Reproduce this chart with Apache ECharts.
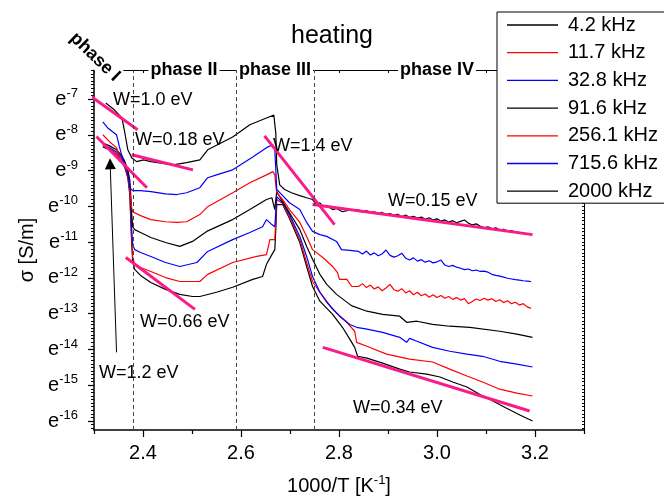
<!DOCTYPE html>
<html>
<head>
<meta charset="utf-8">
<script src="https://cdn.jsdelivr.net/npm/echarts@6/dist/echarts.min.js"></script>
<style>html,body{margin:0;padding:0;background:#fff}#main{width:664px;height:501px}</style>
</head>
<body>
<div id="main"></div>
<script>
var FONT = '"Liberation Sans", Arial, sans-serif';

// legend names and colours, low to high frequency
var names = ['4.2 kHz', '11.7 kHz', '32.8 kHz', '91.6 kHz', '256.1 kHz', '715.6 kHz', '2000 kHz'];
var colors = ['#000000', '#ff0000', '#0000ff', '#000000', '#ff0000', '#0000ff', '#000000'];

// [1000/T, ln sigma]
var f4_2 = [[2.318,-8.34],[2.332,-8.42],[2.346,-8.56],[2.357,-8.75],[2.363,-8.92],[2.369,-9.20],[2.373,-9.67],[2.375,-10.37],[2.377,-11.07],[2.379,-11.54],[2.383,-11.76],[2.395,-11.93],[2.416,-12.13],[2.446,-12.32],[2.475,-12.46],[2.501,-12.52],[2.516,-12.52],[2.550,-12.40],[2.583,-12.26],[2.624,-12.04],[2.644,-11.96],[2.652,-11.62],[2.663,-11.35],[2.669,-11.21],[2.671,-10.65],[2.673,-9.95],[2.685,-9.95],[2.699,-10.34],[2.720,-11.01],[2.734,-11.68],[2.746,-12.24],[2.761,-12.65],[2.787,-13.02],[2.807,-13.38],[2.822,-13.71],[2.832,-13.94],[2.838,-14.19],[2.857,-14.24],[2.889,-14.38],[2.924,-14.55],[2.944,-14.63],[2.979,-14.69],[3.006,-14.77],[3.032,-14.91],[3.061,-15.05],[3.087,-15.25],[3.114,-15.44],[3.142,-15.64],[3.169,-15.83],[3.195,-16.00]];
var f11_7 = [[2.318,-8.31],[2.332,-8.39],[2.346,-8.53],[2.357,-8.70],[2.363,-8.87],[2.369,-9.12],[2.373,-9.53],[2.375,-10.23],[2.377,-10.93],[2.379,-11.43],[2.383,-11.60],[2.395,-11.71],[2.416,-11.82],[2.446,-11.99],[2.475,-12.10],[2.516,-12.10],[2.532,-11.90],[2.583,-11.57],[2.632,-11.40],[2.652,-11.35],[2.659,-10.93],[2.669,-10.93],[2.671,-10.37],[2.673,-9.81],[2.685,-9.92],[2.699,-10.29],[2.720,-10.93],[2.734,-11.57],[2.746,-12.10],[2.761,-12.40],[2.787,-12.88],[2.816,-13.24],[2.832,-13.49],[2.836,-13.80],[2.857,-13.91],[2.897,-14.13],[2.944,-14.27],[2.991,-14.35],[3.026,-14.55],[3.061,-14.74],[3.093,-14.91],[3.128,-15.11],[3.163,-15.22],[3.195,-15.30]];
var f32_8 = [[2.318,-8.28],[2.332,-8.36],[2.346,-8.48],[2.357,-8.64],[2.363,-8.81],[2.369,-9.03],[2.373,-9.40],[2.375,-9.95],[2.377,-10.65],[2.379,-11.07],[2.383,-11.21],[2.395,-11.29],[2.416,-11.40],[2.446,-11.57],[2.475,-11.68],[2.510,-11.57],[2.532,-11.26],[2.583,-10.93],[2.618,-10.73],[2.644,-10.57],[2.652,-10.37],[2.663,-10.51],[2.669,-10.57],[2.671,-10.15],[2.673,-9.73],[2.685,-9.90],[2.699,-10.23],[2.720,-10.84],[2.734,-11.40],[2.746,-11.96],[2.761,-12.40],[2.775,-12.68],[2.801,-13.07],[2.822,-13.30],[2.836,-13.38],[2.857,-13.43],[2.889,-13.52],[2.924,-13.66],[2.938,-13.80],[2.944,-13.69],[2.959,-13.77],[2.991,-13.94],[3.026,-14.05],[3.061,-14.13],[3.093,-14.19],[3.128,-14.33],[3.163,-14.41],[3.195,-14.49]];
var f91_6 = [[2.318,-8.23],[2.332,-8.31],[2.346,-8.42],[2.357,-8.59],[2.363,-8.75],[2.369,-8.98],[2.373,-9.26],[2.375,-9.67],[2.377,-10.23],[2.379,-10.57],[2.383,-10.65],[2.395,-10.73],[2.416,-10.87],[2.446,-11.01],[2.475,-11.12],[2.501,-10.98],[2.530,-10.70],[2.583,-10.37],[2.618,-10.09],[2.652,-9.81],[2.663,-9.76],[2.669,-10.09],[2.671,-9.81],[2.673,-9.59],[2.685,-9.87],[2.699,-10.18],[2.720,-10.65],[2.734,-11.12],[2.746,-11.48],[2.761,-11.90],[2.775,-12.18],[2.795,-12.46],[2.822,-12.74],[2.828,-12.79],[2.857,-12.93],[2.889,-13.02],[2.924,-13.07],[2.938,-13.24],[2.959,-13.21],[2.991,-13.30],[3.026,-13.35],[3.067,-13.38],[3.128,-13.49],[3.163,-13.57],[3.195,-13.66]];
var f256_1 = [[2.318,-8.00],[2.332,-8.20],[2.346,-8.36],[2.352,-8.62],[2.363,-8.89],[2.369,-9.17],[2.373,-9.53],[2.375,-9.81],[2.377,-10.04],[2.379,-10.15],[2.395,-10.26],[2.416,-10.37],[2.446,-10.43],[2.469,-10.45],[2.489,-10.43],[2.516,-10.23],[2.532,-10.01],[2.583,-9.62],[2.618,-9.34],[2.652,-9.12],[2.665,-9.03],[2.669,-9.12],[2.671,-9.40],[2.673,-9.62],[2.685,-9.81],[2.699,-10.09],[2.720,-10.45],[2.734,-10.84],[2.746,-11.21],[2.767,-11.43],[2.787,-11.68],[2.797,-11.85],[2.801,-12.04],[2.816,-12.04],[2.826,-12.24]];
var f715_6 = [[2.318,-7.64],[2.328,-7.81],[2.346,-8.00],[2.352,-8.34],[2.359,-8.70],[2.367,-8.98],[2.371,-9.26],[2.373,-9.48],[2.379,-9.56],[2.395,-9.56],[2.416,-9.59],[2.446,-9.65],[2.469,-9.67],[2.489,-9.62],[2.516,-9.48],[2.532,-9.20],[2.550,-9.12],[2.583,-8.98],[2.624,-8.62],[2.652,-8.36],[2.665,-8.28],[2.669,-8.42],[2.671,-8.98],[2.673,-9.53],[2.685,-9.70],[2.699,-9.90],[2.720,-10.09],[2.734,-10.45],[2.746,-10.70],[2.761,-10.79],[2.775,-10.84],[2.795,-10.98],[2.805,-11.21],[2.822,-11.23]];
var f2000 = [[2.324,-7.11],[2.342,-7.31],[2.357,-7.53],[2.363,-7.95],[2.369,-8.42],[2.377,-8.64],[2.387,-8.75],[2.401,-8.70],[2.416,-8.75],[2.430,-8.78],[2.461,-8.84],[2.489,-8.78],[2.516,-8.70],[2.532,-8.42],[2.583,-8.06],[2.618,-7.72],[2.652,-7.53],[2.667,-7.45],[2.671,-7.95],[2.673,-8.84],[2.679,-9.40],[2.689,-9.53],[2.703,-9.62],[2.720,-9.70],[2.734,-9.76],[2.746,-9.81],[2.754,-9.95],[2.761,-9.90],[2.767,-10.01],[2.775,-9.98],[2.787,-10.09],[2.795,-10.06],[2.807,-10.15],[2.816,-10.12],[2.828,-10.09]];

// noisy phase IV part of the three highest frequencies
var xIV = [2.840,2.848,2.856,2.864,2.872,2.880,2.888,2.896,2.904,2.912,2.920,2.928,2.936,2.944,2.952,2.960,2.968,2.976,2.984,2.992,3.000,3.008,3.016,3.024,3.032,3.040,3.048,3.056,3.064,3.072,3.080,3.088,3.096,3.104,3.112,3.120,3.128,3.136,3.144,3.152,3.160,3.168,3.176,3.184,3.192];
var y256IV = [-12.24,-12.16,-12.27,-12.20,-12.31,-12.25,-12.36,-12.28,-12.18,-12.33,-12.37,-12.30,-12.42,-12.36,-12.47,-12.40,-12.50,-12.45,-12.54,-12.47,-12.55,-12.49,-12.57,-12.52,-12.60,-12.55,-12.62,-12.58,-12.72,-12.66,-12.59,-12.63,-12.57,-12.62,-12.58,-12.66,-12.61,-12.69,-12.64,-12.72,-12.68,-12.76,-12.72,-12.81,-12.85];
var y715IV = [-11.26,-11.33,-11.25,-11.36,-11.30,-11.38,-11.33,-11.22,-11.37,-11.42,-11.38,-11.31,-11.45,-11.50,-11.44,-11.53,-11.49,-11.56,-11.52,-11.58,-11.55,-11.50,-11.64,-11.68,-11.65,-11.70,-11.73,-11.77,-11.75,-11.80,-11.78,-11.82,-11.81,-11.84,-11.90,-11.93,-11.95,-11.98,-12.01,-12.03,-12.05,-12.06,-12.08,-12.09,-12.10];
var y2000IV = [-10.10,-10.16,-10.12,-10.18,-10.15,-10.21,-10.17,-10.24,-10.20,-10.25,-10.22,-10.29,-10.24,-10.31,-10.28,-10.33,-10.30,-10.36,-10.32,-10.38,-10.35,-10.41,-10.38,-10.44,-10.40,-10.46,-10.42,-10.38,-10.47,-10.52,-10.49,-10.55,-10.60,-10.57,-10.63,-10.60,-10.66,-10.64,-10.69,-10.68,-10.72,-10.73,-10.76,-10.77,-10.79];

// activation-energy fit lines (end points)
var fitLines = [
    [[2.279,-6.78],[2.389,-7.86]],   // 1.0 eV
    [[2.377,-8.56],[2.502,-8.98]],   // 0.18 eV
    [[2.305,-8.05],[2.408,-9.48]],   // 1.2 eV
    [[2.365,-11.43],[2.506,-12.88]], // 0.66 eV
    [[2.648,-8.03],[2.791,-10.51]],  // 1.4 eV
    [[2.746,-9.95],[3.195,-10.79]],  // 0.15 eV
    [[2.767,-13.94],[3.189,-15.72]]  // 0.34 eV
];
// phase boundaries
var phaseBounds = [2.376, 2.591, 2.748];
// arrow for W=1.2 eV
var arrowFrom = [2.346, -14.08];
var arrowTo = [2.333, -8.81];

var xMajor = [2.4, 2.6, 2.8, 3.0, 3.2];
var xMinor = [2.3, 2.5, 2.7, 2.9, 3.1, 3.3];
var yMajor = [-16, -15, -14, -13, -12, -11, -10, -9, -8, -7];
var Y_MIN = -16.25, Y_MAX = -6.19;

var xFine = [];
for (var i = 0; i <= 10; i++) xFine.push(+(2.3 + i * 0.1).toFixed(1));
var yFine = [];
for (var k = -162; k <= -62; k++) yFine.push(k / 10);

function zip(xs, ys) {
    return xs.map(function (x, i) { return [x, ys[i]]; });
}

var curves = [
    f4_2, f11_7, f32_8, f91_6,
    f256_1.concat(zip(xIV, y256IV)),
    f715_6.concat(zip(xIV, y715IV)),
    f2000.concat(zip(xIV, y2000IV))
];

var series = curves.map(function (d, i) {
    return {
        name: names[i],
        type: 'line',
        data: d,
        symbol: 'none',
        showSymbol: false,
        silent: true,
        lineStyle: {color: colors[i], width: 1.2},
        itemStyle: {color: colors[i]},
        z: 2
    };
});

// dashed phase boundaries
series[0].markLine = {
    silent: true,
    symbol: 'none',
    label: {show: false},
    lineStyle: {color: '#444', width: 1, type: [4, 3]},
    data: phaseBounds.map(function (v) { return {xAxis: v}; })
};
// arrow
series[1].markLine = {
    silent: true,
    symbol: ['none', 'triangle'],
    symbolSize: 11,
    label: {show: false},
    lineStyle: {color: '#000', width: 1, type: 'solid'},
    data: [[{coord: arrowFrom}, {coord: arrowTo}]]
};

fitLines.forEach(function (d) {
    series.push({
        type: 'line',
        data: d,
        symbol: 'none',
        silent: true,
        clip: false,
        lineStyle: {color: '#fb1a8a', width: 3},
        z: 3
    });
});

function txt(s, x, y, extra) {
    var o = {
        type: 'text', x: x, y: y, z: 100, silent: true,
        style: {text: s, fill: '#000', font: '18px ' + FONT, textVerticalAlign: 'middle'}
    };
    if (extra) {
        for (var p in extra.style || {}) o.style[p] = extra.style[p];
        if (extra.rotation) o.rotation = extra.rotation;
    }
    return o;
}
function phase(s, x, y, rot) {
    return txt(s, x, y, {
        rotation: rot,
        style: {font: 'bold 18px ' + FONT, textAlign: 'center', backgroundColor: '#fff', padding: [1, 2]}
    });
}

var myChart = echarts.init(document.getElementById('main'));
myChart.setOption({
    animation: false,
    backgroundColor: '#fff',
    title: {
        text: 'heating', left: 'center', top: 24, padding: 0,
        textStyle: {fontSize: 25, fontWeight: 'normal', fontFamily: FONT, color: '#000'}
    },
    legend: {
        data: names,
        orient: 'vertical',
        left: 497, top: 12,
        icon: 'rect',
        itemWidth: 51, itemHeight: 1.3, itemGap: 7.7,
        padding: [3, 60, 2, 10],
        backgroundColor: '#fff',
        borderColor: '#000', borderWidth: 1, borderRadius: 0,
        textStyle: {fontSize: 20, fontFamily: FONT, color: '#000', lineHeight: 20, padding: [0, 0, 0, 5]},
        selectedMode: false
    },
    grid: {left: 94, right: 80, top: 70, bottom: 70},
    xAxis: [{
        type: 'value', min: 2.3, max: 3.3, position: 'bottom',
        axisLine: {onZero: false, lineStyle: {color: '#000', width: 1.5}},
        axisTick: {customValues: xMajor, length: 7, lineStyle: {color: '#000', width: 1.2}},
        axisLabel: {customValues: xMajor, formatter: function (v) { return v.toFixed(1); },
            fontSize: 20, fontFamily: FONT, color: '#000', margin: 13},
        splitLine: {show: false},
        name: '1000/T [K{s|-1}]', nameLocation: 'middle', nameGap: 44,
        nameTextStyle: {fontSize: 20, fontFamily: FONT, color: '#000',
            rich: {s: {fontSize: 13, fontFamily: FONT, color: '#000', padding: [0, 0, 11, 0]}}}
    }, {
        type: 'value', min: 2.3, max: 3.3, position: 'bottom',
        axisLine: {show: false},
        axisTick: {customValues: xMinor, length: 4, lineStyle: {color: '#000', width: 1.2}},
        axisLabel: {show: false}, splitLine: {show: false}
    }, {
        type: 'value', min: 2.3, max: 3.3, position: 'top',
        axisLine: {onZero: false, lineStyle: {color: '#000', width: 1}},
        axisTick: {customValues: xFine, inside: true, length: 3, lineStyle: {color: '#000'}},
        axisLabel: {show: false}, splitLine: {show: false}
    }],
    yAxis: [{
        type: 'value', min: Y_MIN, max: Y_MAX, position: 'left',
        axisLine: {onZero: false, lineStyle: {color: '#000', width: 1.5}},
        axisTick: {customValues: yMajor, length: 6, lineStyle: {color: '#000', width: 1.2}},
        axisLabel: {
            customValues: yMajor, margin: 16,
            formatter: function (v) { return '{e|e}{s|' + v + '}'; },
            rich: {
                e: {fontSize: 20, fontFamily: FONT, color: '#000'},
                s: {fontSize: 13, fontFamily: FONT, color: '#000', padding: [0, 0, 11, 0]}
            }
        },
        splitLine: {show: false},
        name: 'σ [S/m]', nameLocation: 'middle', nameRotate: 90, nameGap: 56,
        nameTextStyle: {fontSize: 20, fontFamily: FONT, color: '#000'}
    }, {
        type: 'value', min: Y_MIN, max: Y_MAX, position: 'left',
        axisLine: {show: false},
        axisTick: {customValues: yFine, length: 3, lineStyle: {color: '#000'}},
        axisLabel: {show: false}, splitLine: {show: false}
    }, {
        type: 'value', min: Y_MIN, max: Y_MAX, position: 'right',
        axisLine: {onZero: false, lineStyle: {color: '#000', width: 1}},
        axisTick: {customValues: yFine, inside: true, length: 2, lineStyle: {color: '#000'}},
        axisLabel: {show: false}, splitLine: {show: false}
    }],
    graphic: [
        phase('phase I', 95, 57, -0.766),
        phase('phase II', 184, 70),
        phase('phase III', 275, 70),
        phase('phase IV', 437, 70),
        txt('W=1.0 eV', 113, 100),
        txt('W=0.18 eV', 135, 140),
        txt('W=1.4 eV', 273, 146),
        txt('W=0.15 eV', 388, 201),
        txt('W=0.66 eV', 140, 322),
        txt('W=1.2 eV', 99, 373),
        txt('W=0.34 eV', 353, 408)
    ],
    series: series
});
</script>
</body>
</html>
